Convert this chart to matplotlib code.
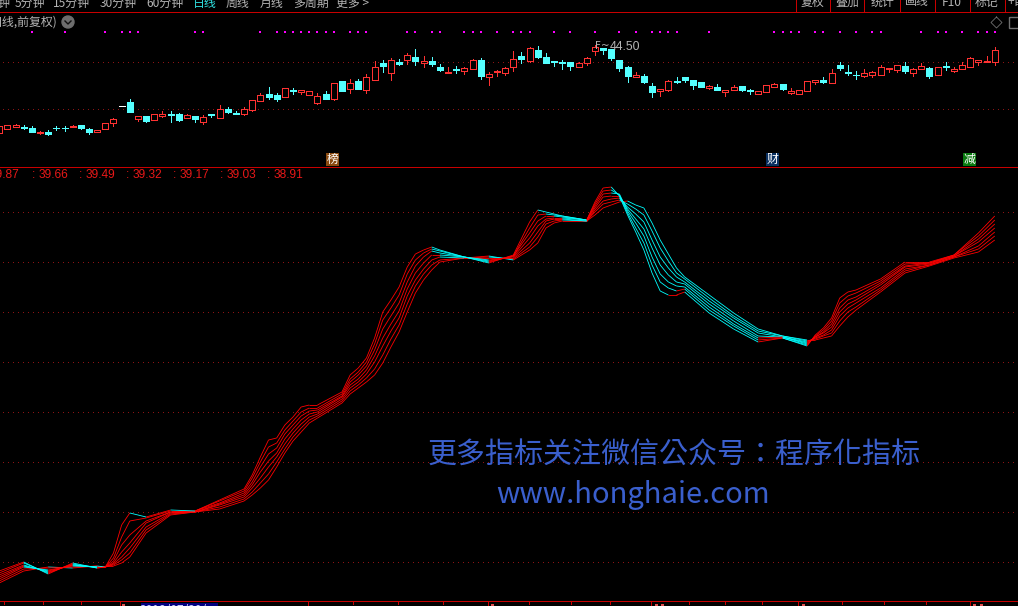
import matplotlib
matplotlib.use('Agg')
import matplotlib.pyplot as plt
from matplotlib.collections import LineCollection
from matplotlib.patches import Rectangle, Circle

plt.rcParams['font.family'] = ['Noto Sans CJK SC', 'DejaVu Sans']

# Candles, in chart units
opens = [180,194,200,200,196,180,185,197,197,199,204,192,183,192,211,261,274,224,231,219,233,238,237,225,231,215,238,227,253,241,238,251,278,298,294,290,309,305,296,272,298,284,337,314,337,311,341,391,362,394,401,409,392,397,379,360,373,368,372,400,348,363,360,380,412,398,429,409,397,394,394,380,390,428,436,433,400,379,348,352,322,306,311,337,348,340,333,317,319,305,311,321,310,299,305,320,328,302,299,308,333,340,332,385,364,356,353,354,356,372,371,382,360,372,375,354,381,368,372,378,395,393,393]
highs = [202,206,207,205,202,187,190,202,202,205,205,196,189,210,225,261,283,231,231,237,247,246,241,237,231,234,238,264,259,246,258,279,300,318,300,315,316,310,306,300,307,330,337,343,342,358,397,399,405,402,421,432,412,409,387,378,382,378,402,405,364,369,379,427,424,439,442,421,397,400,394,393,408,445,436,433,400,382,364,358,330,312,340,349,348,340,333,325,328,310,325,321,314,306,324,330,328,316,309,336,339,349,373,394,385,367,373,367,385,375,384,394,376,391,379,378,394,379,394,409,399,412,439]
lows = [180,192,198,193,184,178,176,190,188,198,193,178,183,192,203,261,245,218,214,219,228,215,218,225,214,209,229,227,242,238,236,248,276,284,277,290,298,298,296,269,284,281,308,302,313,302,341,364,340,385,388,385,380,383,367,360,362,359,372,343,325,352,356,367,391,394,406,392,382,373,370,380,385,415,418,400,367,334,348,331,289,292,307,330,334,313,319,313,310,292,311,307,298,299,305,320,310,299,299,308,328,331,332,370,355,343,349,349,356,364,364,361,352,372,346,354,370,364,372,378,385,393,385]
closes = [202,204,205,197,185,184,179,195,195,202,196,184,189,210,222,261,245,231,218,237,239,234,221,234,224,228,236,252,245,239,252,279,294,289,284,315,306,310,306,291,284,330,308,331,314,348,378,382,399,389,414,397,396,389,371,363,371,375,399,352,357,366,375,402,403,435,410,392,393,391,383,390,405,438,431,406,376,352,354,334,304,312,336,335,340,326,319,322,310,310,318,311,307,306,324,327,314,306,309,336,339,335,360,376,362,354,360,363,378,375,384,367,372,381,352,378,379,373,384,405,399,396,429]
first_bar = -1

# bars that have a magenta mark above them
mark_bars = [3,7,12,14,15,16,23,24,31,33,34,35,36,37,38,39,40,42,43,44,49,50,52,53,56,57,58,60,62,63,64,67,69,72,75,77,79,80,81,82,86,94,95,96,97,99,100,102,104,106,107,112,114,115,117,119,120,121]

# Seven moving averages, sampled at these bars, fastest first
ma_bars = [-1,2,5,8,11,12,13,14,15,17,20,23,26,29,30,31,32,33,34,35,36,37,38,41,42,43,44,45,46,47,48,49,50,51,52,53,56,59,62,64,65,66,67,68,71,72,73,74,75,76,77,78,79,80,81,82,83,86,89,92,95,98,99,100,101,102,103,104,107,110,113,116,119,121]
ma1 = [29,38,26,37,32,33,47,75,87,83,90,89,100,111,125,143,160,162,175,183,193,195,195,208,225,232,242,262,288,300,313,333,346,350,353,350,343,337,345,378,390,388,386,384,380,398,412,413,404,385,368,350,327,309,305,305,308,287,271,258,262,254,265,272,282,302,308,310,321,338,338,345,367,384]
ma2 = [27,37,27,36,32,33,42,63,79,82,89,89,99,109,122,138,153,157,170,179,188,192,192,206,221,228,238,256,280,292,305,326,340,347,351,349,343,338,344,372,385,386,385,384,380,396,409,410,405,387,372,357,335,318,312,309,311,290,274,260,262,255,264,270,279,297,304,307,319,336,337,345,364,380]
ma3 = [25,35,28,35,33,33,39,55,65,79,88,89,97,107,118,133,146,152,166,175,184,189,190,204,218,225,234,250,271,284,297,318,334,343,349,347,343,339,344,367,379,384,384,383,380,394,406,407,406,389,377,364,343,326,318,314,313,293,276,262,263,256,263,268,276,292,300,303,317,334,337,344,361,376]
ma4 = [23,34,29,35,33,33,37,48,57,77,88,88,96,105,115,128,139,147,161,171,180,186,188,203,215,221,230,244,262,276,289,311,327,337,345,345,343,340,343,362,374,381,382,382,380,392,403,404,404,391,381,371,352,335,325,318,316,296,279,264,263,257,263,267,273,288,296,300,315,333,336,344,358,372]
ma5 = [21,33,30,34,33,33,36,43,52,73,87,88,95,103,112,122,133,143,156,167,176,183,186,201,212,218,226,238,254,269,282,304,320,331,340,343,342,342,342,357,368,379,381,381,379,390,399,401,402,393,386,378,360,343,332,323,318,299,282,267,263,258,262,265,270,284,292,297,312,331,335,343,354,368]
ma6 = [19,31,32,33,34,33,35,40,47,70,86,88,93,101,108,117,126,138,151,163,172,180,184,199,209,215,222,231,245,261,275,296,314,326,335,340,342,343,341,353,363,376,379,380,379,388,396,398,400,396,391,385,369,352,339,327,321,302,284,269,264,259,261,264,267,279,288,293,310,329,335,343,351,364]
ma7 = [17,29,33,32,34,34,34,37,43,67,85,88,91,99,105,112,120,133,147,159,168,177,182,197,206,212,218,225,237,253,268,288,307,320,330,338,342,344,340,350,357,372,377,379,379,385,392,395,398,399,395,392,377,360,346,332,323,305,287,271,264,260,260,262,264,274,283,290,308,327,334,342,348,360]

ma_labels = ['39.87', '39.66', '39.49', '39.32', '39.17', '39.03', '38.91']
ma_label_x = [-10, 39, 86, 133, 180, 227, 274]
menu_left = ['钟', '5分钟', '15分钟', '30分钟', '60分钟', '日线', '周线', '月线', '多周期', '更多 >']
menu_left_x = [-2, 15, 53, 100, 146, 193, 226, 260, 293, 336]
menu_right = ['复权', '叠加', '统计', '画线', 'F10', '标记', '+自']
menu_right_x = [813, 847, 882, 917, 952, 987, 1008]
menu_sep = [796, 830, 864, 900, 935, 970, 1005]
badges = [('榜', 326, '#8a4a10'), ('财', 766, '#0a3060'), ('减', 963, '#0a7a10')]
axis_ticks = [4, 43, 81, 398, 353, 443, 529, 571, 610, 689, 725, 762, 842, 884, 926]
axis_big = [120, 308, 488, 651, 798, 970]

RED = '#ff3232'
CYAN = '#54ffff'
GRID = '#8c1414'
THIN = 0.5
W, H = 1018, 606
STEP = 8.16
X0 = 7.4

fig = plt.figure(figsize=(W / 100, H / 100), dpi=100, facecolor='black')
xlim = (-X0 / STEP, (W - X0) / STEP)

# PRICE PANEL
ax1 = fig.add_axes([0, 1 - 167 / H, 1, 155 / H], facecolor='black')
ax1.set_xlim(xlim)
ax1.set_ylim(79, 544)
ax1.axis('off')
for g in [394, 253]:
    ax1.hlines(g, 0.4 - X0 / STEP, xlim[1], color=GRID, lw=THIN, linestyles=(0, (1, 6)), antialiased=False)

for n in range(len(opens)):
    i = first_bar + n
    o, h, l, c = opens[n], highs[n], lows[n], closes[n]
    col = 'white' if c == o else (RED if c > o else CYAN)
    ax1.vlines(i, l, h, color=col, lw=THIN, antialiased=False, zorder=2)
    ax1.bar(i, max(abs(c - o), 1), bottom=min(o, c), width=6 / STEP,
            facecolor='black' if c > o else col, edgecolor=col, lw=THIN, antialiased=False, zorder=3)

ax1.scatter(mark_bars, [484] * len(mark_bars), s=4.5, marker='s', color='#ff00ff', linewidths=0)

# MA PANEL
ax2 = fig.add_axes([0, 1 - 601 / H, 1, 434 / H], facecolor='black')
ax2.set_xlim(xlim)
ax2.set_ylim(-1, 433)
ax2.axis('off')
for g in [388, 338, 288, 238, 188, 138, 88, 38]:
    ax2.hlines(g, 0.4 - X0 / STEP, xlim[1], color=GRID, lw=THIN, linestyles=(0, (1, 6)), antialiased=False)

for ma in [ma7, ma6, ma5, ma4, ma3, ma2, ma1]:
    segs = []
    cols = []
    for k in range(len(ma_bars) - 1):
        segs.append([(ma_bars[k], ma[k]), (ma_bars[k + 1], ma[k + 1])])
        cols.append('#ff0000' if ma[k + 1] >= ma[k] else '#00ffff')
    ax2.add_collection(LineCollection(segs, colors=cols, linewidths=0.6, antialiaseds=True))

# Everything else sits in pixel coordinates
ov = fig.add_axes([0, 0, 1, 1], facecolor='none')
ov.set_xlim(0, W)
ov.set_ylim(H, 0)
ov.axis('off')
ov.hlines([12, 167, 601], 0, W, color='#c80000', lw=THIN, antialiased=False)
ov.vlines(menu_sep, 0, 12, color='#c80000', lw=THIN, antialiased=False)
ov.vlines(axis_ticks, 601, 604, color='#c80000', lw=THIN, antialiased=False)
ov.vlines(axis_big, 601, 606, color='#c80000', lw=THIN, antialiased=False)

for s, x in zip(menu_left, menu_left_x):
    col = '#30e0e0' if s == '日线' else '#b4b4b4'
    ov.text(x, 3, s, color=col, fontsize=8.6, ha='left', va='center')
for s, x in zip(menu_right, menu_right_x):
    ov.text(x, 2, s, color='#b4b4b4', fontsize=8.6, ha='left' if s == '+自' else 'center', va='center')

ov.text(58, 22, '日线,前复权)', color='#b4b4b4', fontsize=8.6, ha='right', va='center')
ov.add_patch(Circle((68, 22), 6, color='#6e6e6e'))
ov.plot([65, 68, 71], [21, 24, 21], color='#101010', lw=1)
ov.plot([996.5, 1002, 996.5, 991, 996.5], [17, 22.5, 28, 22.5, 17], color='#707070', lw=0.6)
ov.add_patch(Rectangle((1009, 17), 12, 11, fill=False, edgecolor='#707070', lw=1))
ov.text(595, 46, 'F~', color='#b4b4b4', fontsize=7.5, family='DejaVu Sans', ha='left', va='center')
ov.text(610, 46.5, '44.50', color='#b4b4b4', fontsize=8.8, family='Liberation Sans', ha='left', va='center')

for s, x in zip(ma_labels, ma_label_x):
    ov.text(x, 175, s, color='#e81818', fontsize=8.6, family='Liberation Sans', ha='left', va='center')
    if x > 0:
        ov.text(x - 5, 175, ':', color='#e81818', fontsize=8.6, family='Liberation Sans', ha='center', va='center')

for s, x, col in badges:
    ov.add_patch(Rectangle((x, 153), 13, 13, color=col, lw=0))
    ov.text(x + 6.5, 159.5, s, color='white', fontsize=8.6, ha='center', va='center')

ov.text(674.5, 456, '更多指标关注微信公众号：程序化指标', color='#3a5fcd', fontsize=20.9, family='Noto Sans CJK TC', ha='center', va='center')
ov.text(633.5, 495, 'www.honghaie.com', color='#3a5fcd', fontsize=21, ha='center', va='center')

# date box at the lower edge, mostly cut off
ov.add_patch(Rectangle((141, 603), 77, 4, color='#000080', lw=0))
ov.text(179, 610, '2018/07/30/一', color='#d0d0ff', fontsize=8.6, ha='center', va='center', clip_on=True)
for x in [122, 491, 655, 661, 802, 973, 980]:
    ov.add_patch(Rectangle((x, 604), 3, 2, color='#e05050', lw=0))

fig.savefig('out.png', dpi=100, facecolor='black')
